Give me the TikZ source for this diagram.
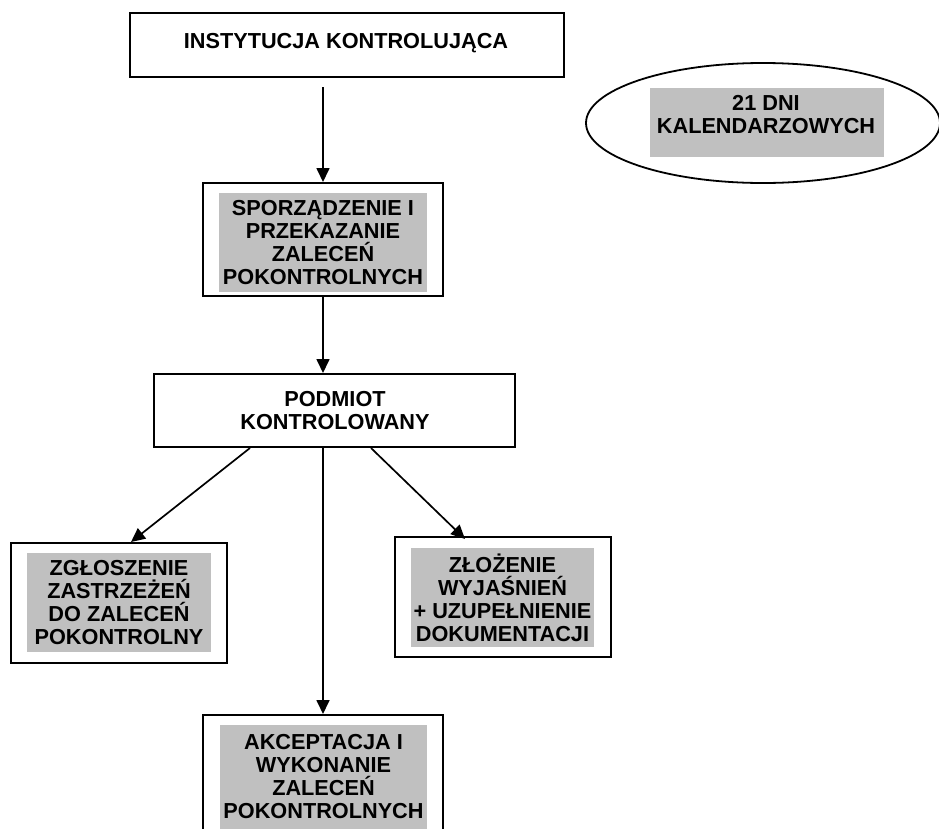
\documentclass[tikz,border=0pt]{standalone}
\usepackage{fontspec}
\setmainfont{Liberation Sans}
\usetikzlibrary{arrows.meta,shapes.geometric}
\definecolor{panelgrey}{HTML}{C0C0C0}
\begin{document}
\begin{tikzpicture}[x=1pt,y=-1pt,
  boxtext/.style={font=\bfseries\fontsize{21.7}{23}\selectfont, align=center},
  frame/.style={draw, line width=2pt, rectangle, inner sep=0pt},
  shade/.style={fill=panelgrey, rectangle, inner sep=0pt, boxtext},
  plain/.style={inner sep=0pt, boxtext},
  arr/.style={line width=1.7pt, -{Triangle[length=14pt,width=13pt]}}
]
\useasboundingbox (0,0) rectangle (939,828);

% controlling institution
\node[frame, minimum width=434pt, minimum height=64pt] (inst) at (347,45) {};
\node[plain] (instt) at (346,43) {INSTYTUCJA KONTROLUJĄCA};

% deadline ellipse
\node[draw, ellipse, line width=1.8pt, minimum width=354pt, minimum height=120pt, inner sep=0pt] (days) at (763,123) {};
\node[fill=panelgrey, minimum width=234pt, minimum height=69pt, inner sep=0pt] (daysbg) at (767,122.5) {};
\node[plain] (dayst) at (766,115) {21 DNI\\KALENDARZOWYCH};

% preparation of recommendations
\node[frame, minimum width=240pt, minimum height=113pt] (prep) at (323,239.5) {};
\node[shade, minimum width=208pt, minimum height=99pt] (prept) at (323,242.5)
  {SPORZĄDZENIE I\\PRZEKAZANIE\\ZALECEŃ\\POKONTROLNYCH};

% audited entity
\node[frame, minimum width=361pt, minimum height=73pt] (entity) at (334.5,410.5) {};
\node[plain] (entityt) at (335,411) {PODMIOT\\KONTROLOWANY};

% three possible responses
\node[frame, minimum width=216pt, minimum height=120pt] (objection) at (119,603) {};
\node[shade, minimum width=184pt, minimum height=99pt] (objectiont) at (119,602.5)
  {ZGŁOSZENIE\\ZASTRZEŻEŃ\\DO ZALECEŃ\\POKONTROLNY};

\node[frame, minimum width=216pt, minimum height=120pt] (explain) at (503,597) {};
\node[shade, minimum width=183pt, minimum height=99pt] (explaint) at (502.5,597.5)
  {ZŁOŻENIE\\WYJAŚNIEŃ\\+ UZUPEŁNIENIE\\DOKUMENTACJI};

% this box runs past the lower edge of the page
\node[frame, minimum width=240pt, minimum height=120pt] (accept) at (323,775) {};
\node[shade, minimum width=207pt, minimum height=104pt] (acceptt) at (323.5,777)
  {AKCEPTACJA I\\WYKONANIE\\ZALECEŃ\\POKONTROLNYCH};

% connectors
\draw[arr, shorten <=9pt] (inst.south -| prep.north) -- (prep.north);
\draw[arr] (prep.south) -- (prep.south |- entity.north);
\draw[arr] ([xshift=97pt]entity.south west) -- ([xshift=121pt]objection.north west);
\draw[arr] (accept.north |- entity.south) -- (accept.north);
\draw[arr] ([xshift=218pt]entity.south west) -- ([xshift=71pt,yshift=-3pt]explain.north west);
\end{tikzpicture}
\end{document}
